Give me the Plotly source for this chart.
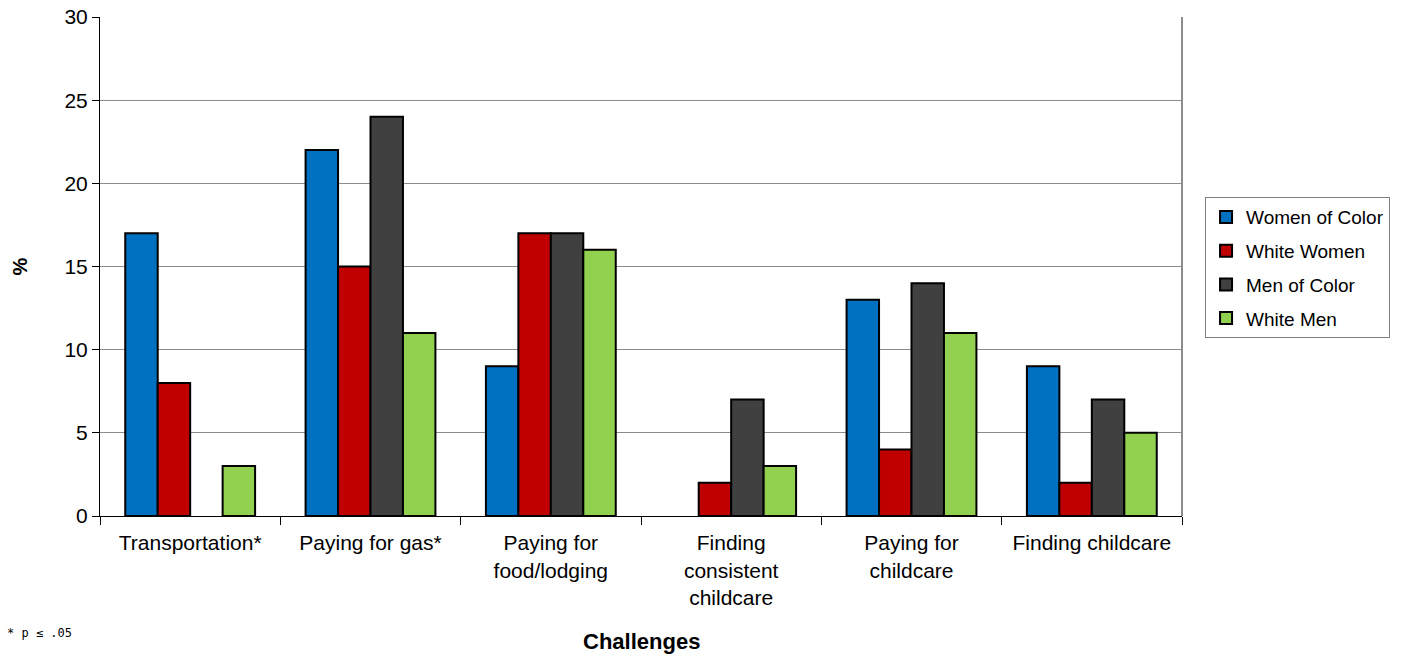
import plotly.graph_objects as go

categories = ["Transportation*", "Paying for gas*", "Paying for<br>food/lodging",
              "Finding<br>consistent<br>childcare", "Paying for<br>childcare", "Finding childcare"]
series_names = ["Women of Color", "White Women", "Men of Color", "White Men"]
women_of_color = [17, 22, 9, 0, 13, 9]
white_women = [8, 15, 17, 2, 4, 2]
men_of_color = [0, 24, 17, 7, 14, 7]
white_men = [3, 11, 16, 3, 11, 5]
colors = ["#0070C0", "#C00000", "#404040", "#92D050"]
y_ticks = [0, 5, 10, 15, 20, 25, 30]

fig = go.Figure()
for i, (name, vals) in enumerate(zip(series_names, [women_of_color, white_women, men_of_color, white_men])):
    fig.add_trace(go.Bar(
        x=categories, y=[v if v > 0 else None for v in vals], name=name, legendgroup=name,
        marker=dict(color=colors[i], line=dict(color="#000000", width=2)),
    ))

font = "Liberation Sans, Arial, sans-serif"
fig.update_layout(
    width=1402, height=656,
    margin=dict(l=100, r=220, t=17, b=140),
    paper_bgcolor="white", plot_bgcolor="white",
    barmode="group", bargap=0.28, bargroupgap=0,
    font=dict(family=font, size=21, color="black"),
    showlegend=True,
    legend=dict(x=1.0213, y=0.639, xanchor="left", yanchor="top",
                bordercolor="#808080", borderwidth=1, bgcolor="white",
                font=dict(size=19, family=font), tracegroupgap=6,
                itemwidth=30),
    xaxis=dict(showline=True, linecolor="black", linewidth=1, automargin=False,
               ticks="outside", tickson="boundaries", ticklen=8, tickcolor="black",
               ticklabelstandoff=8,
               showgrid=False, tickfont=dict(size=21)),
    yaxis=dict(range=[0, 30], tickvals=y_ticks, showline=True, linecolor="black", linewidth=1,
               ticks="outside", ticklen=7, tickcolor="black", automargin=False,
               showgrid=True, gridcolor="#8c8c8c", gridwidth=1, zeroline=False,
               tickfont=dict(size=21)),
    shapes=[dict(type="line", xref="paper", yref="paper", x0=1, x1=1, y0=0, y1=1,
                 line=dict(color="#8c8c8c", width=2))],
    annotations=[
        dict(text="<b>Challenges</b>", xref="paper", yref="paper", x=0.5, y=-0.252,
             xanchor="center", yanchor="middle", showarrow=False, font=dict(size=22)),
        dict(text="<b>%</b>", xref="paper", yref="paper", x=-0.074, y=0.5, textangle=-90,
             xanchor="center", yanchor="middle", showarrow=False, font=dict(size=20)),
        dict(text="* p ≤ .05", xref="paper", yref="paper", x=-0.088, y=-0.234,
             xanchor="left", yanchor="middle", showarrow=False,
             font=dict(size=12, family="DejaVu Sans Mono")),
    ],
)
fig.write_html("out.html")
